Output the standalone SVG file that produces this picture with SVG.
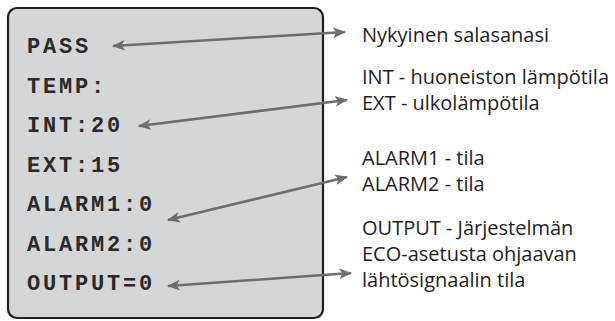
<svg xmlns="http://www.w3.org/2000/svg" width="615" height="321" viewBox="0 0 615 321">
<style>
.mono{font-family:"Liberation Mono","Courier New",monospace;font-weight:bold;font-size:22px;letter-spacing:2.8px;fill:#2a2a2a}
.lbl{font-family:"Open Sans","Noto Sans",sans-serif;font-size:20px;fill:#1e1e1e}
.arr{stroke:#6e6e6e;stroke-width:2.5;fill:none;marker-start:url(#ah);marker-end:url(#ah)}
</style>
<defs>
<marker id="ah" viewBox="0 0 12 10" refX="11" refY="5" markerWidth="13" markerHeight="11" markerUnits="userSpaceOnUse" orient="auto-start-reverse">
<path d="M0,0 L12,5 L0,10 L3,5 Z" fill="#6e6e6e"/>
</marker>
</defs>
<rect width="615" height="321" fill="#ffffff"/>
<g id="panel">
<rect x="8" y="8" width="315" height="310" rx="9" ry="9" fill="#d5d6d8" stroke="#1e1e1e" stroke-width="2.2"/>
<text class="mono" x="27" y="53">PASS</text>
<text class="mono" x="27" y="92.5">TEMP:</text>
<text class="mono" x="27" y="132">INT:20</text>
<text class="mono" x="27" y="171.5">EXT:15</text>
<text class="mono" x="27" y="211">ALARM1:0</text>
<text class="mono" x="27" y="250.5">ALARM2:0</text>
<text class="mono" x="27" y="290">OUTPUT=0</text>
</g>
<g id="labels">
<text class="lbl" x="362" y="42">Nykyinen salasanasi</text>
<text class="lbl" x="362" y="84">INT - huoneiston lämpötila</text>
<text class="lbl" x="362" y="110">EXT - ulkolämpötila</text>
<text class="lbl" x="362" y="165">ALARM1 - tila</text>
<text class="lbl" x="362" y="191">ALARM2 - tila</text>
<text class="lbl" x="362" y="235">OUTPUT - Järjestelmän</text>
<text class="lbl" x="362" y="261">ECO-asetusta ohjaavan</text>
<text class="lbl" x="362" y="287">lähtösignaalin tila</text>
</g>
<g id="connectors">
<line class="arr" x1="113" y1="46" x2="345" y2="32"/>
<line class="arr" x1="139" y1="126" x2="347" y2="100"/>
<line class="arr" x1="168" y1="220" x2="347" y2="177"/>
<line class="arr" x1="168" y1="286" x2="351" y2="273"/>
</g>
</svg>
